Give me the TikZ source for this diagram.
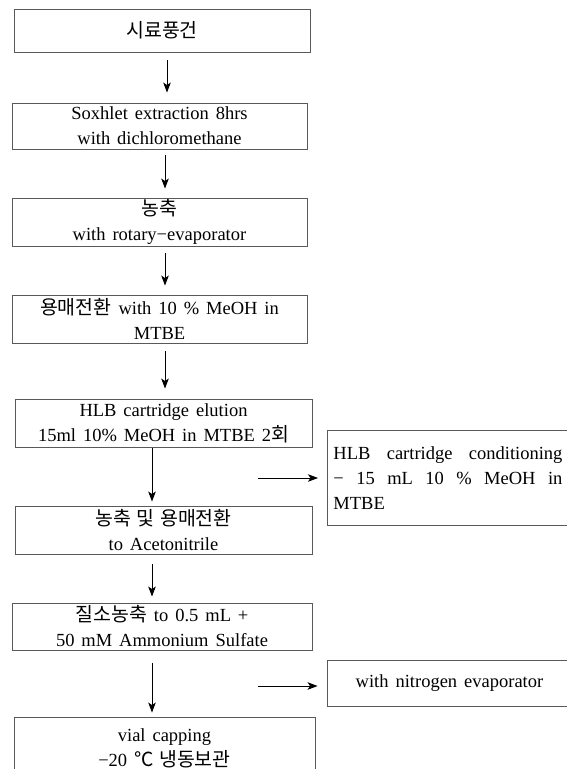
\documentclass[tikz,border=0pt]{standalone}
\usepackage{fontspec}
\setmainfont{Liberation Serif}[WordSpace=1.5]
\newfontfamily\kr{Noto Sans CJK KR}[Scale=1.05,WordSpace=1.3]
\usetikzlibrary{arrows.meta}

\tikzset{
  stepbox/.style={draw=black!65, line width=0.9pt, inner sep=0pt, align=center,
    font=\fontsize{18.5}{25}\selectfont},
  sidebox/.style={stepbox, anchor=north west, align=left},
  flow/.style={thick, -{Stealth[length=10pt,width=7.5pt,inset=2.5pt]}}
}
\newcommand\fullline[1]{\leavevmode\hbox to 229pt{#1}}

\begin{document}
\begin{tikzpicture}[x=1pt,y=-1pt]
      \useasboundingbox (0,0) rectangle (567,769);
      \clip (0,0) rectangle (567,769);
      \node[stepbox, minimum width=296pt, minimum height=43pt] (dry) at (162,30.5) {{\kr 시료풍건}};
      \node[stepbox, minimum width=295pt, minimum height=46pt] (soxhlet) at (159.5,126) {Soxhlet extraction 8hrs\\with dichloromethane};
      \node[stepbox, minimum width=295pt, minimum height=48pt] (rotary) at (159.5,222) {{\kr 농축}\\with rotary−evaporator};
      \node[stepbox, minimum width=295pt, minimum height=48pt] (solvent) at (159.5,319) {{\kr 용매전환} with 10 \% MeOH in\\MTBE};
      \node[stepbox, minimum width=297pt, minimum height=48pt] (elution) at (163.5,423) {HLB cartridge elution\\15ml 10\% MeOH in MTBE 2{\kr 회}};
      \node[stepbox, minimum width=297pt, minimum height=48pt] (acn) at (163.5,530) {{\kr 농축 및 용매전환}\\to Acetonitrile};
      \node[stepbox, minimum width=300pt, minimum height=47pt] (nitro) at (162,626.5) {{\kr 질소농축} to 0.5 mL +\\50 mM Ammonium Sulfate};
      \node[stepbox, minimum width=301pt, minimum height=62pt] (vial) at (164.5,748) {vial capping\\−20 {\kr ℃ 냉동보관}};
      \node[sidebox, minimum height=95pt, text width=262pt, inner xsep=6pt] (cond) at (327,430)
        {\fullline{HLB\hfill cartridge\hfill conditioning}\\\fullline{−\hfill 15\hfill mL\hfill 10\hfill \%\hfill MeOH\hfill in}\\MTBE};
      \node[stepbox, minimum width=245pt, minimum height=46pt] (evap) at (449.5,683) {with nitrogen evaporator};
      \coordinate (c1) at (258,478);
      \coordinate (c2) at (258,686);
      \draw[flow, shorten <=8pt, shorten >=10pt] ([xshift=5pt]dry.south) -- ([xshift=5pt]dry.south |- soxhlet.north);
      \draw[flow, shorten <=6pt, shorten >=9pt] ([xshift=5.5pt]soxhlet.south) -- ([xshift=5.5pt]soxhlet.south |- rotary.north);
      \draw[flow, shorten <=7pt, shorten >=9pt] ([xshift=5.5pt]rotary.south) -- ([xshift=5.5pt]rotary.south |- solvent.north);
      \draw[flow, shorten <=8pt, shorten >=10pt] ([xshift=5.5pt]solvent.south) -- ([xshift=5.5pt]solvent.south |- elution.north);
      \draw[flow, shorten <=1pt, shorten >=4pt] ([xshift=-11.5pt]elution.south) -- ([xshift=-11.5pt]elution.south |- acn.north);
      \draw[flow, shorten <=10pt, shorten >=6pt] ([xshift=-11.5pt]acn.south) -- ([xshift=-11.5pt]acn.south |- nitro.north);
      \draw[flow, shorten <=13pt, shorten >=4pt] ([xshift=-10pt]nitro.south) -- ([xshift=-10pt]nitro.south |- vial.north);
      \draw[flow, shorten >=9pt] (c1) -- (c1 -| cond.west);
      \draw[flow, shorten >=9pt] (c2) -- (c2 -| evap.west);
\end{tikzpicture}
\end{document}
